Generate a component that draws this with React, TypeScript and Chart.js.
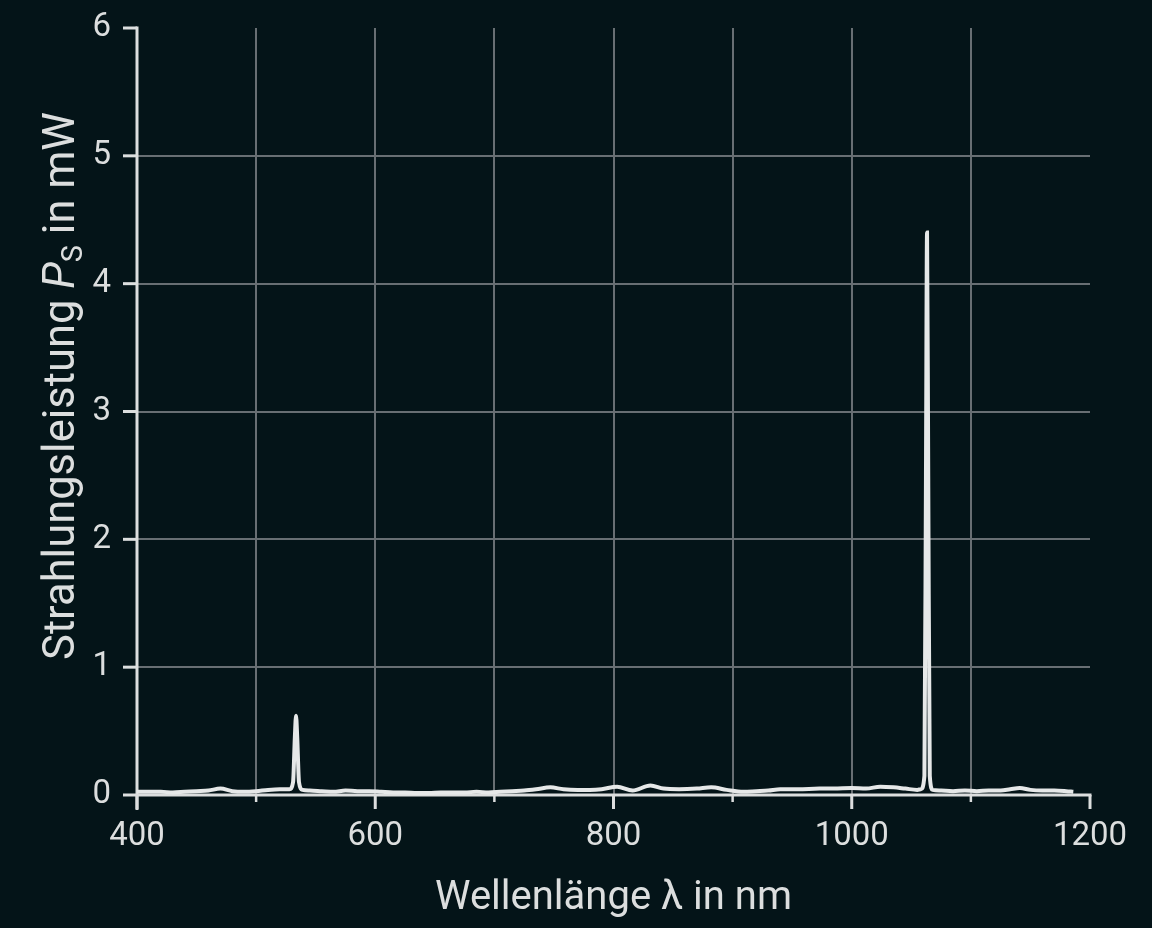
import React, { useEffect, useRef } from "react";
import { Chart, registerables } from "chart.js";

Chart.register(...registerables);

// Wavelength in nm
const wavelengths: number[] = [
  400, 410, 420, 430, 440, 450, 460, 470, 480, 490, 500, 510, 520, 528, 531, 532.5, 533.5, 534.5, 536, 539,
  545, 555, 565, 575, 585, 595, 605, 615, 625, 635, 645, 655, 665, 675, 685, 695, 705, 715, 725, 735,
  747, 758, 770, 780, 790, 803, 816, 831, 842, 855, 870, 882, 895, 909, 920, 930, 940, 955, 973, 985,
  1000, 1012, 1024, 1035, 1045, 1055, 1058, 1061, 1062.3, 1063.2, 1064.2, 1065.5, 1068, 1075, 1085, 1095,
  1105, 1115, 1125, 1133, 1141, 1150, 1160, 1170, 1180, 1186,
];
// Radiant power in mW
const power: number[] = [
  0.025, 0.025, 0.025, 0.02, 0.025, 0.03, 0.035, 0.05, 0.03, 0.025, 0.03, 0.04, 0.045, 0.045, 0.1, 0.45, 0.62, 0.45, 0.1, 0.04,
  0.035, 0.03, 0.025, 0.035, 0.03, 0.03, 0.025, 0.02, 0.02, 0.015, 0.015, 0.02, 0.02, 0.02, 0.025, 0.02, 0.025, 0.03, 0.035, 0.045,
  0.06, 0.045, 0.04, 0.04, 0.045, 0.065, 0.035, 0.075, 0.05, 0.045, 0.05, 0.06, 0.04, 0.025, 0.03, 0.035, 0.045, 0.045, 0.05, 0.05,
  0.055, 0.05, 0.065, 0.06, 0.05, 0.04, 0.045, 0.15, 2.5, 4.4, 2.5, 0.15, 0.04, 0.035, 0.03, 0.035,
  0.03, 0.035, 0.035, 0.045, 0.055, 0.04, 0.035, 0.035, 0.03, 0.025,
];

const xMin = 400;
const xMax = 1200;
const xStep = 100;
const xLabelStep = 200;
const yMin = 0;
const yMax = 6;
const yStep = 1;

const xTitle = "Wellenlänge λ in nm";
const yTitleParts = { before: "Strahlungsleistung ", symbol: "P", sub: "S", after: " in mW" };

const BG = "#041418";
const FG = "#dcdede";
const GRID = "#686f73";
const FONT = "Roboto, 'DejaVu Sans', sans-serif";

export default function App() {
  const ref = useRef<HTMLCanvasElement | null>(null);

  useEffect(() => {
    document.body.style.margin = "0";
    document.body.style.background = BG;
    const canvas = ref.current;
    if (!canvas) return;

    const axesPlugin = {
      id: "axesPlugin",
      beforeDatasetsDraw(chart: any) {
        const ctx = chart.ctx as CanvasRenderingContext2D;
        const xs = chart.scales.x;
        const ys = chart.scales.y;
        const x0 = xs.getPixelForValue(xMin);
        const x1 = xs.getPixelForValue(xMax);
        const y0 = ys.getPixelForValue(yMin);
        const y1 = ys.getPixelForValue(yMax);
        ctx.save();
        ctx.strokeStyle = FG;
        ctx.lineCap = "butt";
        ctx.lineWidth = 3;
        ctx.beginPath();
        ctx.moveTo(x0, y1 - 1.5);
        ctx.lineTo(x0, y0 + 15);
        ctx.moveTo(x0 - 1.5, y0);
        ctx.lineTo(x1 + 1.5, y0);
        ctx.stroke();
        // y ticks
        for (let v = yMin; v <= yMax; v += yStep) {
          const py = ys.getPixelForValue(v);
          ctx.beginPath();
          ctx.moveTo(x0 - 14, py);
          ctx.lineTo(x0, py);
          ctx.stroke();
        }
        // x ticks
        for (let v = xMin; v <= xMax; v += xStep) {
          const px = xs.getPixelForValue(v);
          const major = v % xLabelStep === 0;
          ctx.lineWidth = major ? 3 : 2.5;
          ctx.beginPath();
          ctx.moveTo(px, y0);
          ctx.lineTo(px, y0 + (major ? 14 : 7));
          ctx.stroke();
        }
        ctx.restore();
      },
      afterDraw(chart: any) {
        const ctx = chart.ctx as CanvasRenderingContext2D;
        const area = chart.chartArea;
        ctx.save();
        ctx.fillStyle = FG;
        ctx.textBaseline = "alphabetic";
        // x title
        ctx.font = `40px ${FONT}`;
        ctx.textAlign = "center";
        ctx.fillText(xTitle, (area.left + area.right) / 2, 909);
        // y title with italic symbol and subscript
        const fMain = `43.5px ${FONT}`;
        const fIt = `italic 43.5px ${FONT}`;
        const fSub = `29px ${FONT}`;
        ctx.font = fMain;
        const w1 = ctx.measureText(yTitleParts.before).width;
        const w4 = ctx.measureText(yTitleParts.after).width;
        ctx.font = fIt;
        const w2 = ctx.measureText(yTitleParts.symbol).width;
        ctx.font = fSub;
        const w3 = ctx.measureText(yTitleParts.sub).width;
        const total = w1 + w2 + w3 + w4;
        ctx.translate(74, 386);
        ctx.rotate(-Math.PI / 2);
        ctx.textAlign = "left";
        let x = -total / 2;
        ctx.font = fMain;
        ctx.fillText(yTitleParts.before, x, 0);
        x += w1;
        ctx.font = fIt;
        ctx.fillText(yTitleParts.symbol, x, 0);
        x += w2;
        ctx.font = fSub;
        ctx.fillText(yTitleParts.sub, x, 8);
        x += w3;
        ctx.font = fMain;
        ctx.fillText(yTitleParts.after, x, 0);
        ctx.restore();
      },
    };

    const chart = new Chart(canvas, {
      type: "line",
      data: {
        datasets: [
          {
            data: wavelengths.map((w, i) => ({ x: w, y: power[i] })),
            borderColor: "#e6e8e8",
            borderWidth: 4,
            pointRadius: 0,
            cubicInterpolationMode: "monotone",
            fill: false,
          },
        ],
      },
      options: {
        responsive: false,
        animation: false,
        layout: { padding: { top: 28, right: 62, left: 0, bottom: 0 } },
        plugins: { legend: { display: false }, tooltip: { enabled: false } },
        scales: {
          x: {
            type: "linear",
            min: xMin,
            max: xMax,
            afterFit: (s: any) => {
              s.height = 928 - 795;
              s.paddingLeft = 0;
              s.paddingRight = 0;
            },
            border: { display: false },
            grid: {
              drawTicks: false,
              lineWidth: 2,
              color: (c: any) =>
                c.tick && (c.tick.value === xMin || c.tick.value === xMax) ? "rgba(0,0,0,0)" : GRID,
            },
            ticks: {
              stepSize: xStep,
              autoSkip: false,
              maxRotation: 0,
              padding: 22,
              color: FG,
              font: { family: FONT, size: 33 },
              callback: (v: any) => (Number(v) % xLabelStep === 0 ? String(v) : ""),
            },
          },
          y: {
            min: yMin,
            max: yMax,
            afterFit: (s: any) => {
              s.width = 137;
              s.paddingTop = 0;
              s.paddingBottom = 0;
            },
            border: { display: false },
            grid: {
              drawTicks: false,
              lineWidth: 2,
              color: (c: any) =>
                c.tick && (c.tick.value === yMin || c.tick.value === yMax) ? "rgba(0,0,0,0)" : GRID,
            },
            ticks: {
              stepSize: yStep,
              padding: 26,
              color: FG,
              font: { family: FONT, size: 33 },
            },
          },
        },
      },
      plugins: [axesPlugin],
    });
    return () => chart.destroy();
  }, []);

  return (
    <div style={{ position: "fixed", left: 0, top: 0, width: 1152, height: 928, background: BG }}>
      <canvas ref={ref} width={1152} height={928} style={{ display: "block" }} />
    </div>
  );
}
